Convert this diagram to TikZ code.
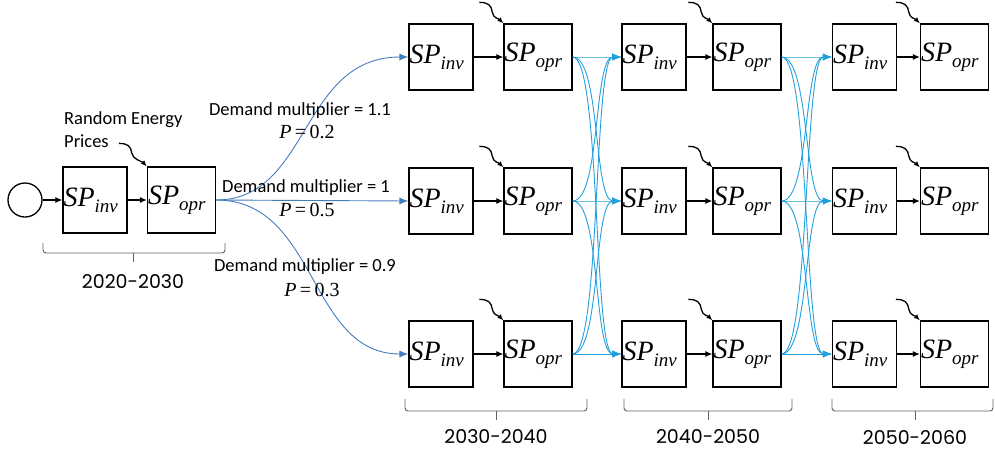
\documentclass[tikz,border=0pt]{standalone}
\usepackage{fontspec}
\setmainfont{Carlito}
\newfontfamily\yearfont{Poppins}
\newfontfamily\spfont{Liberation Serif}
\usetikzlibrary{arrows.meta}

\definecolor{rootblue}{RGB}{68,124,190}
\definecolor{linkcyan}{RGB}{34,160,221}
\definecolor{bracegray}{RGB}{95,95,95}

% subproblem symbol SP with an italic subscript
\newcommand\spsym[1]{{\spfont\itshape SP\raisebox{-6pt}{\fontsize{19}{19}\selectfont #1}}}
% probability of a demand scenario
\newcommand\prob[1]{{\spfont\fontsize{20}{23}\selectfont{\itshape P}\,=\,#1}}

% wavy "random energy prices" input into the top-left corner of an operation box
\newcommand\pricearrow[3]{%
  \path (#1.north west) ++(#2,#3) coordinate (#1-src);
  \draw[wavy] (#1-src) .. controls +(9,0) and +(-1,-7) .. ++(13,10)
              .. controls +(1,6) and +(-5,-5) .. (#1.north west);}

% flat brace under one planning period with its year label
\newcommand\periodbrace[8]{%
  \draw[brace] (#1,#3) |- (#2,#4) -- (#2,#3);
  \draw[brace, rounded corners=0pt] (#5,#4) -- (#5,#4+9);
  \node[year] (#6) at (#5,#7) {#8};}

\begin{document}
\begin{tikzpicture}[x=1pt,y=-1pt,
  sp/.style={draw, line width=1.3pt, minimum height=66pt, inner xsep=0.5pt,
    inner ysep=0pt, align=left, text width=#1, font=\fontsize{28}{30}\selectfont},
  inv/.style={sp=63pt},
  opr/.style={sp=67pt},
  blk/.style={line width=1.2pt, -{Latex[length=7pt,width=6pt]}},
  wavy/.style={line width=1.3pt, -{Latex[length=6pt,width=5pt]}},
  rootlink/.style={rootblue, line width=0.9pt, -{Latex[length=9pt,width=7pt]}},
  link/.style={linkcyan, line width=0.9pt, -{Latex[length=9pt,width=7pt]}},
  brace/.style={bracegray, line width=0.9pt, rounded corners=3pt},
  year/.style={font=\yearfont\fontsize{19}{22}\selectfont, inner sep=0pt},
  lbl/.style={font=\fontsize{18.5}{23}\selectfont, inner sep=0pt},
]
\useasboundingbox (0,0) rectangle (995,451);

% first stage 2020-2030
\node[circle, draw, line width=1.3pt, minimum size=34pt, inner sep=0pt] (root) at (25,200) {};
\node[inv] (inv0) at (95,200) {\spsym{inv}};
\node[opr] (opr0) at (181.5,200) {\spsym{opr}};
\draw[blk] (root) -- (inv0);
\draw[blk] (inv0) -- (opr0);
\node[lbl, align=left, anchor=west] (prices) at (64,130) {Random Energy\\Prices};
\pricearrow{opr0}{-28}{-23}

% later stages: three demand scenarios per period
\foreach \k/\xi/\xo in {1/441/538, 2/654/747, 3/864.5/954.5}{
  \foreach \r/\y in {1/57, 2/201, 3/354}{
    \node[inv] (inv-\k-\r) at (\xi,\y) {\spsym{inv}};
    \node[opr] (opr-\k-\r) at (\xo,\y) {\spsym{opr}};
    \draw[blk] (inv-\k-\r) -- (opr-\k-\r);
    \pricearrow{opr-\k-\r}{-24}{-21}
  }
}

% scenario tree out of the first stage
\draw[rootlink] (opr0.east) .. controls (310,200) and (300,57) .. (inv-1-1.west);
\draw[rootlink] (opr0.east) -- (inv-1-2.west);
\draw[rootlink] (opr0.east) .. controls (318,200) and (308,354) .. (inv-1-3.west);

\node[lbl] (dm1) at (300,111) {Demand multiplier = 1.1};
\node[lbl] (p1) at (307,132) {\prob{0.2}};
\node[lbl] (dm2) at (306,188) {Demand multiplier = 1};
\node[lbl] (p2) at (307,210) {\prob{0.5}};
\node[lbl] (dm3) at (305,267) {Demand multiplier = 0.9};
\node[lbl] (p3) at (312,290) {\prob{0.3}};

% full transitions between consecutive periods
\foreach \k/\n in {1/2, 2/3}{
  \foreach \s in {1,2,3}{
    \foreach \t in {1,2,3}{
      \draw[link] (opr-\k-\s.east) .. controls +(28,0) and +(-28,0) .. (inv-\n-\t.west);
    }
  }
}

% planning periods
\periodbrace{43}{225}{243}{253}{133}{y0}{282}{2020-2030}
\periodbrace{405}{587}{399}{411}{496}{y1}{437}{2030-2040}
\periodbrace{624}{792}{399}{411}{708}{y2}{437}{2040-2050}
\periodbrace{832}{993}{399}{411}{915}{y3}{437}{2050-2060}
\end{tikzpicture}
\end{document}
